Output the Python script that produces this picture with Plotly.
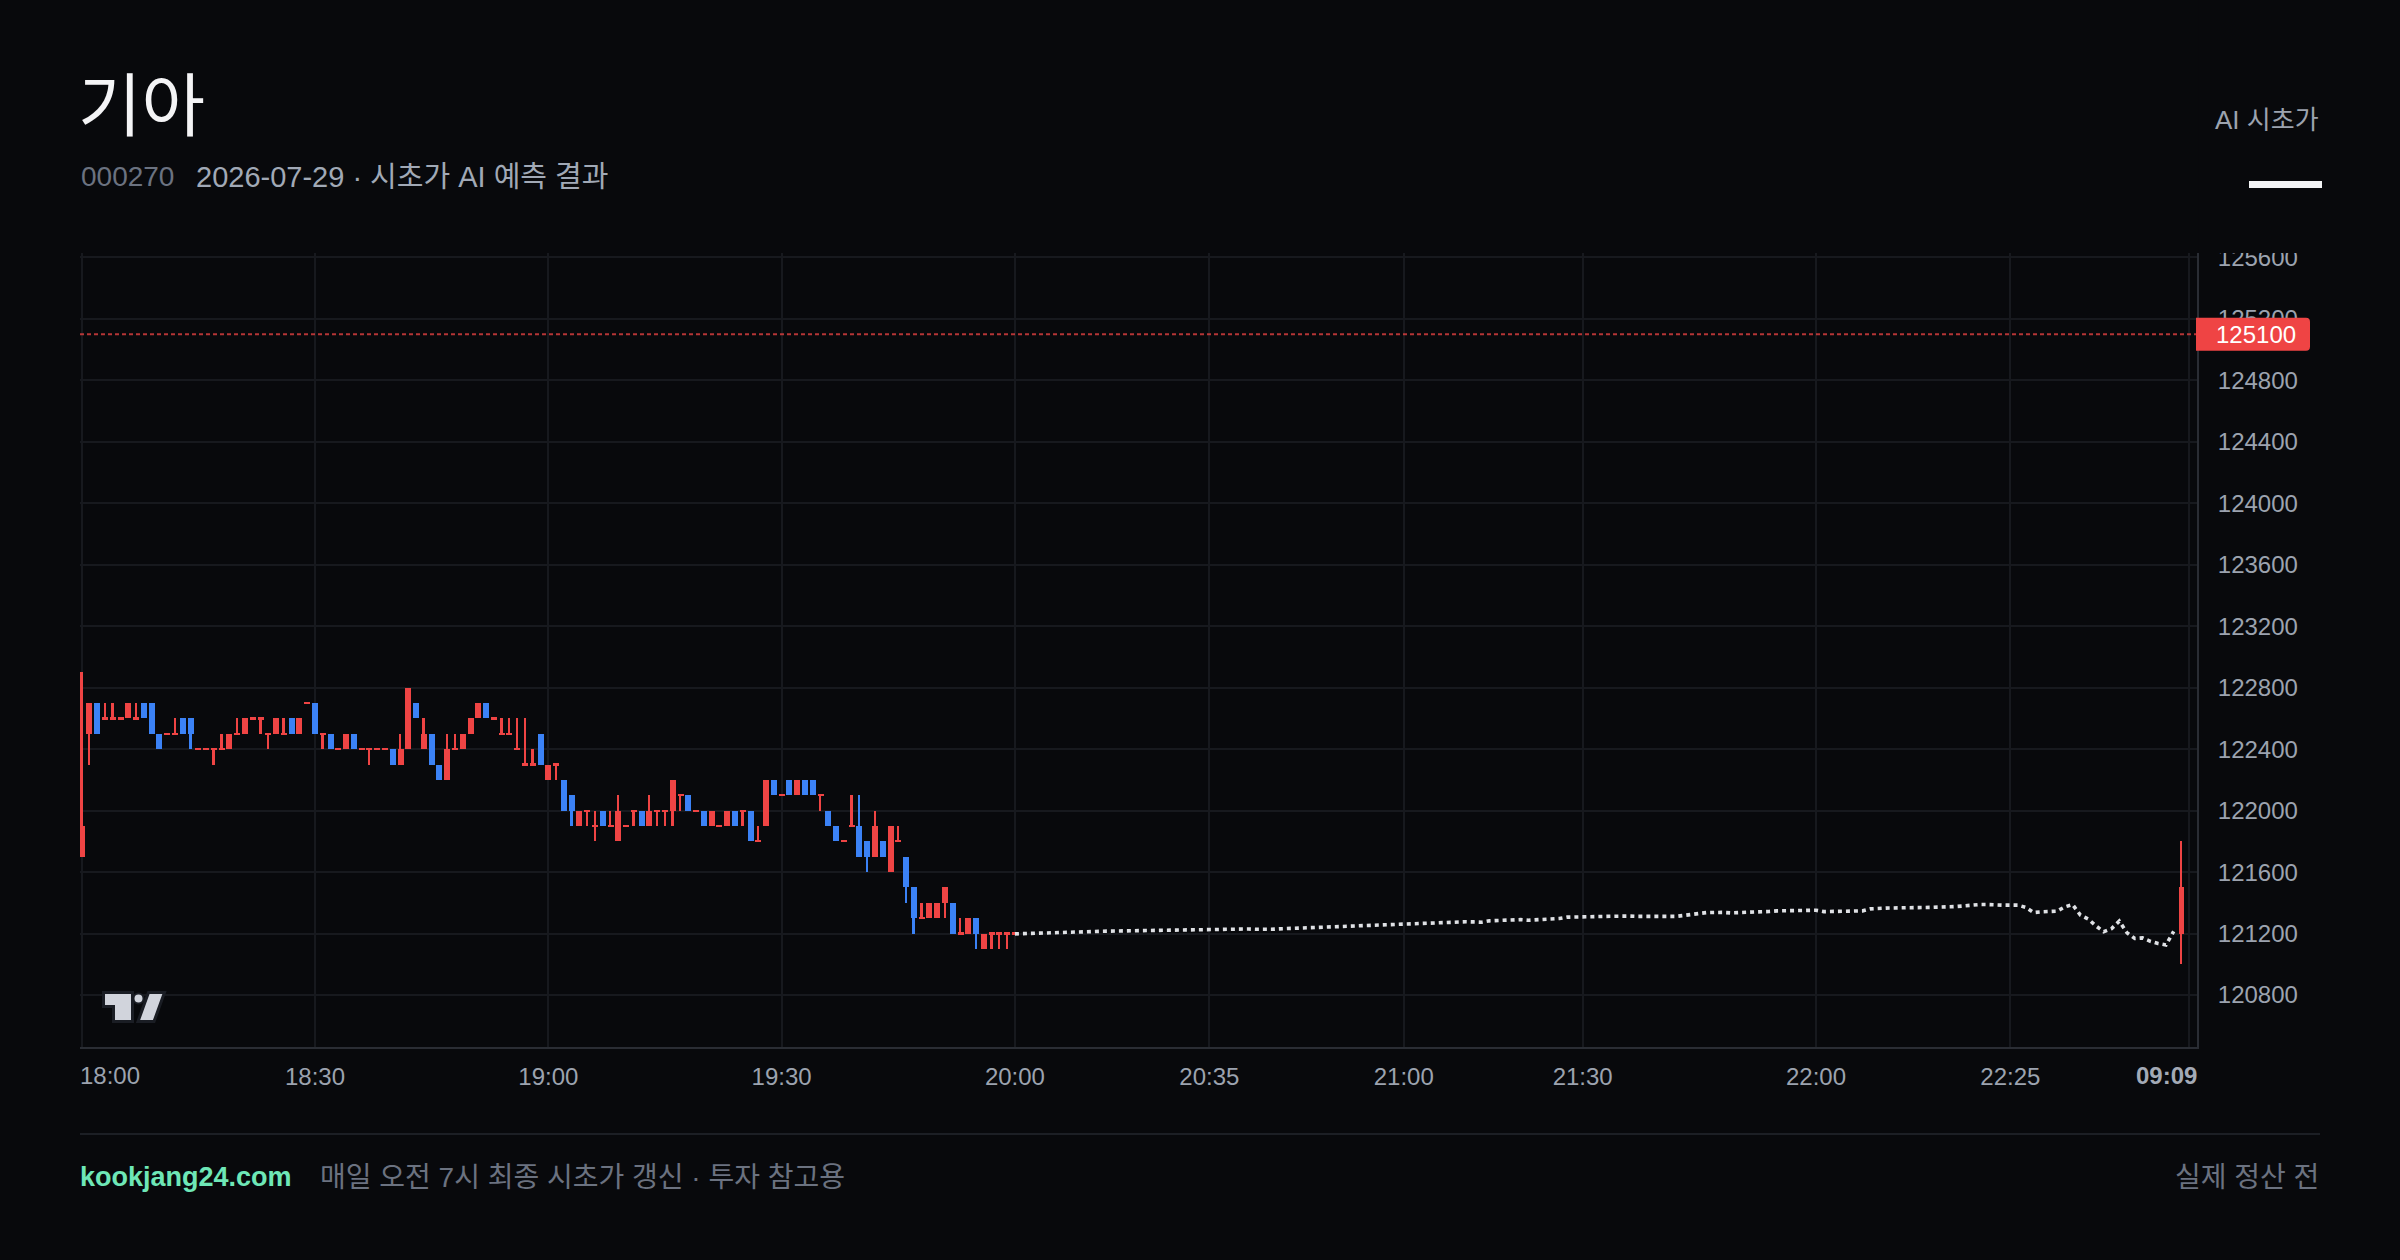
import plotly.graph_objects as go

# ---------------- data ----------------
opens = [
    121700, 122500, 122700, 122600, 122600, 122600, 122600, 122600, 122700, 122700,
    122500, 122500, 122500, 122600, 122600, 122400, 122400, 122400, 122400, 122400,
    122500, 122500, 122600, 122600, 122500, 122500, 122500, 122600, 122500, 122700,
    122700, 122500, 122500, 122400, 122400, 122500, 122400, 122400, 122400, 122400,
    122400, 122300, 122400, 122700, 122400, 122500, 122300, 122200, 122400, 122400,
    122500, 122600, 122700, 122600, 122500, 122500, 122400, 122300, 122300, 122500,
    122200, 122300, 122200, 122100, 121900, 122000, 121900, 122000, 121900, 121800,
    121900, 122000, 122000, 121900, 122000, 122000, 122000, 122100, 122100, 122000,
    122000, 121900, 121900, 121900, 122000, 122000, 122000, 121800, 121900, 122200,
    122100, 122200, 122100, 122200, 122200, 122100, 122000, 121900, 121800, 121900,
    121900, 121800, 121700, 121800, 121600, 121800, 121700, 121500, 121300, 121300,
    121300, 121400, 121400, 121200, 121200, 121300, 121100, 121200, 121200, 121200,
    121200,
]
highs = [
    122900, 122700, 122700, 122700, 122700, 122600, 122700, 122700, 122700, 122700,
    122500, 122500, 122600, 122600, 122600, 122400, 122400, 122400, 122500, 122500,
    122600, 122600, 122600, 122600, 122500, 122600, 122600, 122600, 122600, 122700,
    122700, 122500, 122500, 122400, 122500, 122500, 122400, 122400, 122400, 122400,
    122400, 122500, 122800, 122700, 122600, 122500, 122300, 122500, 122500, 122500,
    122600, 122700, 122700, 122600, 122600, 122600, 122600, 122600, 122400, 122500,
    122300, 122300, 122200, 122100, 122000, 122000, 122000, 122000, 122000, 122100,
    121900, 122000, 122000, 122100, 122000, 122000, 122200, 122100, 122100, 122000,
    122000, 122000, 121900, 122000, 122000, 122000, 122000, 121900, 122200, 122200,
    122100, 122200, 122200, 122200, 122200, 122100, 122000, 121900, 121800, 122100,
    122100, 121800, 122000, 121800, 121900, 121900, 121700, 121500, 121400, 121400,
    121400, 121500, 121400, 121300, 121300, 121300, 121200, 121200, 121200, 121200,
    121200,
]
lows = [
    121700, 122300, 122500, 122600, 122600, 122600, 122600, 122600, 122600, 122500,
    122400, 122500, 122500, 122500, 122400, 122400, 122400, 122300, 122400, 122400,
    122500, 122500, 122600, 122500, 122400, 122500, 122500, 122500, 122500, 122700,
    122500, 122400, 122400, 122400, 122400, 122400, 122400, 122300, 122400, 122400,
    122300, 122300, 122400, 122600, 122400, 122300, 122200, 122200, 122400, 122400,
    122500, 122600, 122600, 122600, 122500, 122500, 122400, 122300, 122300, 122300,
    122200, 122200, 122000, 121900, 121900, 121900, 121800, 121900, 121900, 121800,
    121900, 121900, 121900, 121900, 121900, 121900, 121900, 122000, 122000, 122000,
    121900, 121900, 121900, 121900, 121900, 121900, 121800, 121800, 121900, 122100,
    122100, 122100, 122100, 122100, 122100, 122000, 121900, 121800, 121800, 121900,
    121700, 121600, 121700, 121700, 121600, 121800, 121400, 121200, 121300, 121300,
    121300, 121300, 121200, 121200, 121200, 121100, 121100, 121100, 121100, 121100,
    121200,
]
closes = [
    121900, 122700, 122500, 122600, 122600, 122600, 122700, 122600, 122600, 122500,
    122400, 122500, 122500, 122500, 122500, 122400, 122400, 122400, 122400, 122500,
    122500, 122600, 122600, 122600, 122500, 122600, 122500, 122500, 122600, 122700,
    122500, 122500, 122400, 122400, 122500, 122400, 122400, 122400, 122400, 122400,
    122300, 122400, 122800, 122600, 122500, 122300, 122200, 122400, 122400, 122500,
    122600, 122700, 122600, 122600, 122500, 122500, 122400, 122300, 122300, 122300,
    122300, 122300, 122000, 122000, 122000, 122000, 121900, 121900, 121900, 122000,
    121900, 122000, 121900, 122000, 122000, 122000, 122200, 122100, 122000, 122000,
    121900, 122000, 121900, 122000, 121900, 122000, 121800, 121800, 122200, 122100,
    122100, 122100, 122200, 122100, 122100, 122100, 121900, 121800, 121800, 121900,
    121700, 121700, 121900, 121700, 121900, 121800, 121500, 121300, 121300, 121400,
    121400, 121500, 121200, 121200, 121300, 121200, 121200, 121200, 121200, 121200,
    121200,
]

# AI opening-price forecast path (20:00 -> next morning)
forecast = [
    121198, 121200, 121202, 121203, 121205, 121207,
    121208, 121209, 121210, 121212, 121213, 121215,
    121216, 121217, 121218, 121218, 121219, 121220,
    121220, 121221, 121222, 121222, 121223, 121224,
    121224, 121225, 121227, 121228, 121230, 121231,
    121230, 121228, 121226, 121228, 121231, 121233,
    121235, 121237, 121241, 121243, 121245, 121246,
    121248, 121250, 121252, 121254, 121256, 121257,
    121259, 121261, 121263, 121265, 121268, 121272,
    121274, 121276, 121278, 121278, 121277, 121276,
    121274, 121283, 121285, 121287, 121289, 121291,
    121287, 121290, 121294, 121296, 121298, 121307,
    121307, 121307, 121309, 121311, 121312, 121313,
    121315, 121314, 121312, 121311, 121311, 121310,
    121309, 121312, 121318, 121322, 121331, 121337,
    121339, 121338, 121335, 121336, 121338, 121339,
    121339, 121344, 121348, 121348, 121348, 121350,
    121352, 121352, 121343, 121344, 121346, 121347,
    121348, 121348, 121361, 121365, 121366, 121367,
    121367, 121367, 121365, 121370, 121371, 121372,
    121372, 121376, 121380, 121385, 121389, 121389,
    121385, 121385, 121385, 121385, 121370, 121337,
    121342, 121344, 121346, 121374, 121389, 121320,
    121295, 121250, 121212, 121232, 121281, 121205,
    121168, 121172, 121150, 121135, 121126, 121215,
]

# next-morning (09:09) candle
am_open, am_high, am_low, am_close = 121200, 121800, 121000, 121500

target_price = 125100

tick_slots = [0, 30, 60, 90, 120, 145, 170, 193, 223, 248, 271]
tick_labels = ["18:00", "18:30", "19:00", "19:30", "20:00", "20:35", "21:00",
               "21:30", "22:00", "22:25", "09:09"]
price_ticks = [120800, 121200, 121600, 122000, 122400, 122800, 123200,
               123600, 124000, 124400, 124800, 125200, 125600]

# ---------------- style / layout constants ----------------
W, H = 2400, 1260
L, R, T, B = 80, 2197, 253, 1047
PW, PH = R - L, B - T
BG = "#08090c"
GRID = "#17191e"
BORDER = "#2a2d34"
UP = "#ef4444"
DOWN = "#3b82f6"
FONT = "Liberation Sans, Noto Sans CJK KR, sans-serif"
TXT = "#9ca3af"

slot_px = 7.777
slot0_px = 81.7
x_range = [(L - slot0_px) / slot_px, (R - slot0_px) / slot_px]
y_range = [120462, 125629]
units_per_px = (y_range[1] - y_range[0]) / PH
doji_h = 2.2 * units_per_px


def px2x(px):
    return (px - L) / PW


def px2y(py):
    return (B - py) / PH


# ---------------- assemble candles ----------------
n = len(opens)
fc_start = n - 1
fc_slots = list(range(fc_start, fc_start + len(forecast)))
am_slot = fc_slots[-1] + 1

c_slots = list(range(n)) + [am_slot]
c_o = opens + [am_open]
c_h = highs + [am_high]
c_l = lows + [am_low]
c_c = closes + [am_close]

groups = {True: dict(x=[], base=[], h=[], wx=[], wb=[], wh=[]),
          False: dict(x=[], base=[], h=[], wx=[], wb=[], wh=[])}
for s, o, hi, lo, c in zip(c_slots, c_o, c_h, c_l, c_c):
    g = groups[c >= o]
    if c == o:
        g["base"].append(o - doji_h / 2)
        g["h"].append(doji_h)
    else:
        g["base"].append(min(o, c))
        g["h"].append(abs(c - o))
    g["x"].append(s)
    if hi > lo:
        g["wx"].append(s)
        g["wb"].append(lo)
        g["wh"].append(hi - lo)

fig = go.Figure()
for up in (True, False):
    g = groups[up]
    col = UP if up else DOWN
    fig.add_trace(go.Bar(x=g["wx"], y=g["wh"], base=g["wb"], width=0.24,
                         marker=dict(color=col, line=dict(width=0)),
                         hoverinfo="skip"))
for up in (True, False):
    g = groups[up]
    col = UP if up else DOWN
    fig.add_trace(go.Bar(x=g["x"], y=g["h"], base=g["base"], width=0.77,
                         marker=dict(color=col, line=dict(width=0)),
                         hoverinfo="skip"))

fig.add_trace(go.Scatter(x=fc_slots, y=forecast, mode="lines",
                         line=dict(color="#dfe1e5", width=3.6, dash="4px,4px"),
                         hoverinfo="skip"))

# ---------------- shapes ----------------
shapes = []
# cover the price-axis area above the pane (clips top label like the original)
shapes.append(dict(type="rect", xref="paper", yref="paper",
                   x0=px2x(R + 1.5), x1=px2x(W), y0=1, y1=px2y(0),
                   fillcolor=BG, line=dict(width=0), layer="above"))
# target dashed line
shapes.append(dict(type="line", xref="paper", yref="y", x0=0, x1=1,
                   y0=target_price, y1=target_price,
                   line=dict(color="rgba(239,68,68,0.75)", width=2, dash="4px,3px"),
                   layer="above"))
# red price tag
shapes.append(dict(type="path", xref="paper", yref="y",
                   xsizemode="pixel", ysizemode="pixel",
                   xanchor=1, yanchor=target_price,
                   path="M -1,-16.5 L 109,-16.5 Q 113,-16.5 113,-12.5 L 113,12.5 "
                        "Q 113,16.5 109,16.5 L -1,16.5 Z",
                   fillcolor=UP, line=dict(width=0), layer="above"))
# legend swatch (white bar under "AI 시초가")
shapes.append(dict(type="rect", xref="paper", yref="paper",
                   x0=px2x(2249), x1=px2x(2322), y0=px2y(188), y1=px2y(181),
                   fillcolor="#f3f4f6", line=dict(width=0), layer="above"))
# footer separator
shapes.append(dict(type="line", xref="paper", yref="paper",
                   x0=px2x(80), x1=px2x(2320), y0=px2y(1134), y1=px2y(1134),
                   line=dict(color="#1c1f25", width=2), layer="above"))


def pth(points):
    return "M " + " L ".join(f"{px2x(a):.5f},{px2y(b):.5f}" for a, b in points) + " Z"


LOGO = "#d1d4dc"
LOGO_EDGE = "#1a1d24"
shapes.append(dict(type="path", xref="paper", yref="paper",
                   path=pth([(103.5, 992.5), (132.5, 992.5), (132.5, 1021.5),
                             (113.5, 1021.5), (113.5, 1006.5), (103.5, 1006.5)]),
                   fillcolor=LOGO, line=dict(color=LOGO_EDGE, width=3), layer="above"))
shapes.append(dict(type="circle", xref="paper", yref="paper",
                   x0=px2x(133.5), x1=px2x(143.5), y0=px2y(1003.5), y1=px2y(993.5),
                   fillcolor=LOGO, line=dict(color=LOGO_EDGE, width=2), layer="above"))
shapes.append(dict(type="path", xref="paper", yref="paper",
                   path=pth([(148.5, 992.5), (164.5, 992.5), (154.0, 1021.5), (138.0, 1021.5)]),
                   fillcolor=LOGO, line=dict(color=LOGO_EDGE, width=3), layer="above"))

# ---------------- annotations ----------------
ann = []


def add_text(text, x, y, size, color, xanchor="left", bold=False, xref="paper", yref="paper", **kw):
    ann.append(dict(text=f"<b>{text}</b>" if bold else text, x=x, y=y, xref=xref, yref=yref,
                    xanchor=xanchor, yanchor="middle", showarrow=False,
                    font=dict(family=FONT, size=size, color=color), **kw))


add_text("기아", px2x(76), px2y(108), 69, "#f4f4f6")
add_text("000270", px2x(79), px2y(177), 28, "#6b7280")
add_text("2026-07-29 · 시초가 AI 예측 결과", px2x(194), px2y(177), 29, "#a1a9b6")
add_text("AI 시초가", px2x(2321), px2y(120), 26, "#9ca3af", xanchor="right")
add_text(f"{target_price}", 1, target_price, 24, "#ffffff", yref="y", xshift=17)
add_text(tick_labels[0], px2x(78), px2y(1075), 24, TXT)
add_text(tick_labels[-1], px2x(2199), px2y(1075), 24, "#a3aab6", xanchor="right", bold=True)
add_text("kookjang24.com", px2x(78), px2y(1177), 27, "#6ee7b7", bold=True)
add_text("매일 오전 7시 최종 시초가 갱신 · 투자 참고용", px2x(318), px2y(1177), 28, "#6b7280")
add_text("실제 정산 전", px2x(2321), px2y(1177), 28, "#6b7280", xanchor="right")

fig.update_layout(
    width=W, height=H,
    margin=dict(l=L, r=W - R, t=T, b=H - B, pad=0),
    paper_bgcolor=BG, plot_bgcolor=BG,
    barmode="overlay", bargap=0, showlegend=False,
    font=dict(family=FONT, color=TXT, size=24),
    xaxis=dict(range=x_range, tickmode="array", tickvals=tick_slots,
               ticktext=[""] + tick_labels[1:-1] + [""],
               showgrid=True, gridcolor=GRID, gridwidth=2,
               showline=True, linecolor=BORDER, linewidth=2,
               zeroline=False, ticks="", ticklabelstandoff=7,
               tickfont=dict(family=FONT, size=24, color=TXT), fixedrange=True),
    yaxis=dict(range=y_range, side="right", tickmode="array", tickvals=price_ticks,
               ticktext=[str(v) for v in price_ticks],
               showgrid=True, gridcolor=GRID, gridwidth=2,
               showline=True, linecolor=BORDER, linewidth=2,
               zeroline=False, ticks="", ticklabelstandoff=14,
               tickfont=dict(family=FONT, size=24, color=TXT), fixedrange=True),
    shapes=shapes, annotations=ann,
)

fig.write_html("out.html")
